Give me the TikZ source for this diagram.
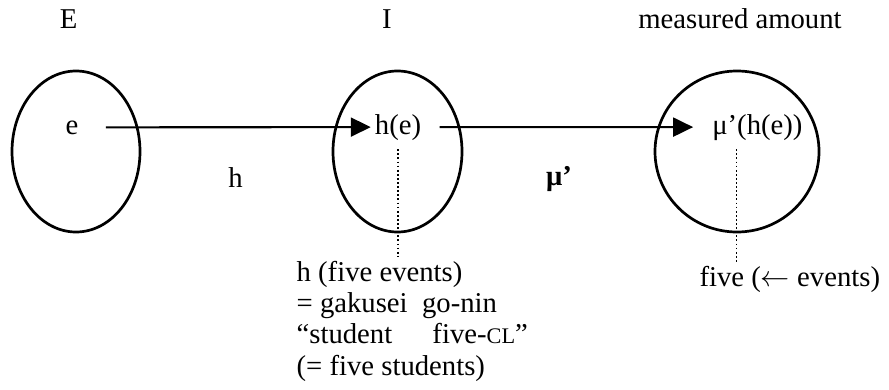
\documentclass[tikz,border=0pt]{standalone}
\usepackage{fontspec}
\setmainfont{Liberation Serif}
\usetikzlibrary{arrows.meta}

\begin{document}
\begin{tikzpicture}[x=0.3mm,y=-0.3mm,
    txt/.style={font=\fontsize{24.5}{26.7}\selectfont},
    setline/.style={line width=2.3pt},
    maparrow/.style={line width=1.8pt,-{Triangle[length=6mm,width=5.7mm]}},
    guide/.style={dotted,line width=1.5pt}]
  \useasboundingbox (0,0) rectangle (889,389);
  % the three sets
  \draw[setline] (76,151.5) ellipse [x radius=64,y radius=80.5];
  \draw[setline] (397.5,151.5) ellipse [x radius=64.5,y radius=80.5];
  \draw[setline] (737,151.5) ellipse [x radius=82,y radius=80.5];
  \coordinate (cI) at (397.7,151.5);
  \coordinate (cM) at (736.5,151.5);
  % headings
  \node[txt,anchor=base] (setE) at (68.7,29) {E};
  \node[txt,anchor=base] (setI) at (387,29) {I};
  \node[txt,anchor=base] (setM) at (740,29) {measured amount};
  % elements
  \node[txt,anchor=base] (e) at (72,134) {e};
  \node[txt,anchor=base] (he) at (398,134) {h(e)};
  \node[txt,anchor=base] (mu) at (757.4,134) {μ’(h(e))};
  \node[txt,anchor=base] (hlab) at (235.5,187.7) {h};
  \node[txt,anchor=base] (mulab) at (559,185) {\textbf{μ’}};
  % notes below
  \node[txt,anchor=north west,align=left] (hnote) at (292.5,257)
    {h (five events)\\= gakusei\ \ go-nin\\“student\hspace{1.4em}five-{\fontsize{19}{20}\selectfont CL}”\\(= five students)};
  \node[txt,anchor=base west] (fivenote) at (695.4,286) {five ($\leftarrow$ events)};
  % maps
  \draw[maparrow,shorten <=7mm] (e.east) -- (he.west);
  \draw[maparrow,shorten <=4.3mm,shorten >=4.5mm] (he.east) -- (mu.west);
  \draw[guide,shorten <=1.5mm] (cI |- he.south) -- (cI |- hnote.north);
  \draw[guide,shorten <=1.5mm] (cM |- mu.south) -- (cM |- fivenote.north);
\end{tikzpicture}
\end{document}
